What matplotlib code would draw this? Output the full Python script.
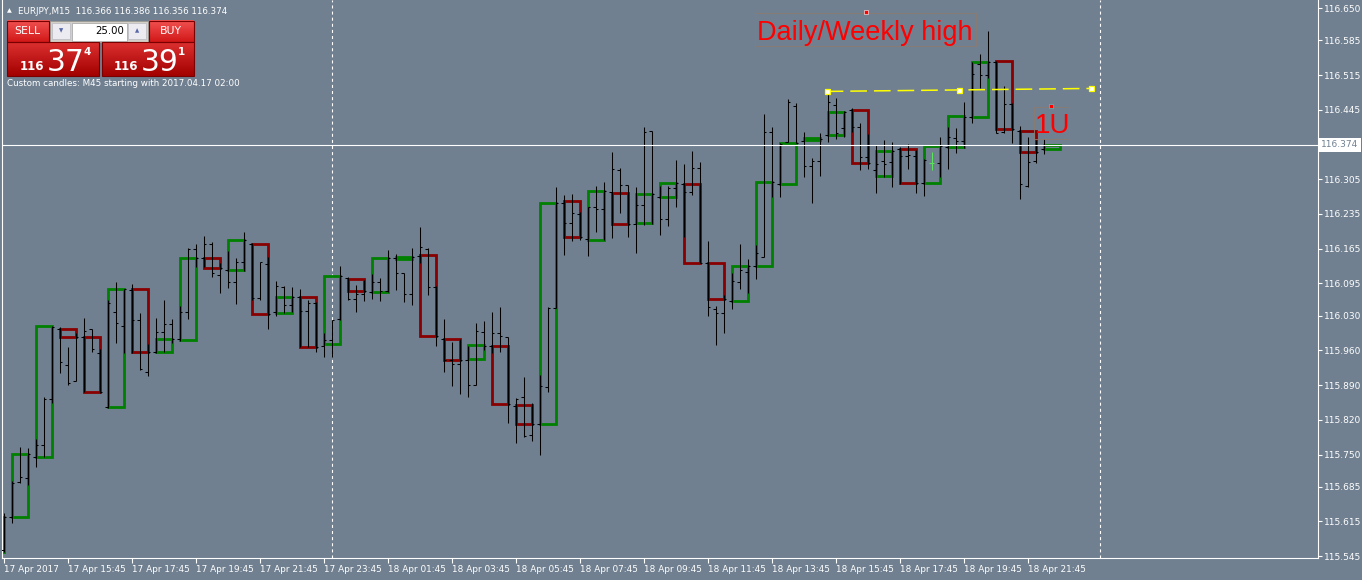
import matplotlib
matplotlib.use("Agg")
import matplotlib.pyplot as plt
from matplotlib.patches import Rectangle
from matplotlib import transforms
import numpy as np

plt.rcParams['lines.scale_dashes'] = False
plt.rcParams['font.family'] = ['DejaVu Sans']

# ---------------- DATA ----------------
symbol_header = "EURJPY,M15  116.366 116.386 116.356 116.374"
custom_note = "Custom candles: M45 starting with 2017.04.17 02:00"
lot_size = "25.00"
sell_big, sell_small, sell_sup = "37", "116", "4"
buy_big, buy_small, buy_sup = "39", "116", "1"
current_price = 116.374

# M15 OHLC bars (index 0 = 17 Apr 13:45)
bar_open = [
    115.558, 115.624, 115.695, 115.703, 115.745, 115.769, 115.862, 116.003, 115.930, 115.898,
    115.987, 116.003, 115.955, 115.846, 116.037, 116.009, 116.082, 116.021, 115.916, 115.957,
    115.997, 116.013, 115.983, 116.037, 116.164, 116.146, 116.174, 116.112, 116.122, 116.098,
    116.138, 116.174, 116.066, 116.134, 116.037, 116.088, 116.051, 116.068, 116.039, 116.056,
    115.969, 115.981, 116.023, 116.106, 116.064, 116.074, 116.078, 116.098, 116.080, 116.146,
    116.116, 116.074, 116.150, 116.164, 116.088, 115.983, 115.941, 115.932, 115.941, 115.890,
    115.997, 115.969, 115.995, 115.987, 115.848, 115.866, 115.789, 115.812, 115.886, 116.045,
    116.257, 116.217, 116.235, 116.184, 116.249, 116.245, 116.279, 116.324, 116.293, 116.215,
    116.253, 116.402, 116.269, 116.225, 116.287, 116.295, 116.279, 116.328, 116.136, 116.043,
    116.035, 116.060, 116.098, 116.118, 116.130, 116.148, 116.400, 116.295, 116.380, 116.453,
    116.382, 116.332, 116.342, 116.394, 116.455, 116.408, 116.445, 116.410, 116.350, 116.324,
    116.342, 116.340, 116.366, 116.352, 116.352, 116.297, 116.338, 116.338, 116.370, 116.388,
    116.382, 116.430, 116.537, 116.515, 116.541, 116.400, 116.457, 116.402, 116.291, 116.342,
    116.366]
bar_high = [
    115.632, 115.697, 115.765, 115.763, 115.781, 115.866, 116.009, 116.007, 115.967, 115.995,
    116.025, 116.003, 115.963, 116.062, 116.098, 116.084, 116.094, 116.035, 115.973, 116.025,
    116.062, 116.023, 116.049, 116.166, 116.174, 116.191, 116.178, 116.136, 116.160, 116.146,
    116.199, 116.176, 116.138, 116.148, 116.100, 116.090, 116.088, 116.084, 116.062, 116.058,
    115.995, 116.021, 116.130, 116.108, 116.092, 116.102, 116.114, 116.106, 116.162, 116.154,
    116.116, 116.166, 116.209, 116.166, 116.090, 116.023, 115.977, 115.983, 115.969, 116.015,
    116.019, 116.037, 116.047, 115.987, 115.864, 115.906, 115.854, 115.910, 116.047, 116.289,
    116.273, 116.275, 116.239, 116.249, 116.291, 116.299, 116.360, 116.328, 116.293, 116.289,
    116.410, 116.402, 116.291, 116.291, 116.344, 116.336, 116.362, 116.340, 116.180, 116.049,
    116.072, 116.116, 116.174, 116.144, 116.172, 116.436, 116.410, 116.378, 116.467, 116.459,
    116.400, 116.348, 116.398, 116.481, 116.469, 116.443, 116.449, 116.418, 116.396, 116.374,
    116.384, 116.380, 116.370, 116.376, 116.364, 116.346, 116.360, 116.390, 116.410, 116.408,
    116.461, 116.541, 116.557, 116.604, 116.543, 116.493, 116.459, 116.412, 116.390, 116.384,
    116.386]
bar_low = [
    115.554, 115.612, 115.693, 115.689, 115.725, 115.745, 115.854, 115.914, 115.890, 115.898,
    115.876, 115.957, 115.874, 115.844, 115.975, 115.955, 115.955, 115.920, 115.908, 115.955,
    115.957, 115.975, 115.979, 116.023, 116.128, 116.128, 116.108, 116.076, 116.086, 116.053,
    116.120, 116.062, 116.062, 116.003, 116.029, 116.035, 116.037, 115.967, 115.967, 115.957,
    115.947, 115.947, 116.021, 116.062, 116.037, 116.060, 116.064, 116.060, 116.078, 116.082,
    116.058, 116.051, 116.136, 116.072, 115.969, 115.916, 115.888, 115.872, 115.866, 115.890,
    115.961, 115.955, 115.957, 115.814, 115.773, 115.785, 115.777, 115.749, 115.876, 116.045,
    116.152, 116.180, 116.182, 116.150, 116.199, 116.182, 116.187, 116.237, 116.189, 116.156,
    116.213, 116.215, 116.193, 116.211, 116.249, 116.189, 116.273, 116.136, 116.029, 115.971,
    115.995, 116.043, 116.084, 116.076, 116.104, 116.148, 116.269, 116.269, 116.380, 116.378,
    116.310, 116.257, 116.312, 116.380, 116.386, 116.390, 116.400, 116.324, 116.326, 116.277,
    116.310, 116.289, 116.295, 116.326, 116.277, 116.271, 116.324, 116.310, 116.326, 116.358,
    116.368, 116.418, 116.489, 116.509, 116.398, 116.398, 116.378, 116.265, 116.289, 116.338,
    116.356]
bar_close = [
    115.624, 115.693, 115.705, 115.751, 115.769, 115.862, 116.007, 115.937, 115.894, 115.987,
    115.999, 115.963, 115.876, 116.056, 116.015, 116.084, 116.021, 115.922, 115.957, 115.997,
    116.013, 115.983, 116.037, 116.164, 116.146, 116.174, 116.116, 116.126, 116.098, 116.138,
    116.182, 116.066, 116.138, 116.033, 116.090, 116.051, 116.068, 116.039, 116.056, 115.967,
    115.981, 116.021, 116.110, 116.064, 116.074, 116.080, 116.098, 116.080, 116.146, 116.116,
    116.074, 116.148, 116.168, 116.088, 115.989, 115.941, 115.932, 115.941, 115.890, 115.999,
    115.969, 115.995, 115.989, 115.852, 115.862, 115.787, 115.812, 115.888, 116.045, 116.257,
    116.217, 116.237, 116.189, 116.249, 116.245, 116.281, 116.326, 116.293, 116.215, 116.253,
    116.400, 116.275, 116.225, 116.287, 116.297, 116.279, 116.328, 116.136, 116.047, 116.035,
    116.064, 116.100, 116.122, 116.130, 116.156, 116.400, 116.299, 116.376, 116.461, 116.378,
    116.332, 116.342, 116.386, 116.461, 116.398, 116.441, 116.410, 116.350, 116.338, 116.336,
    116.336, 116.362, 116.352, 116.354, 116.297, 116.344, 116.338, 116.372, 116.390, 116.382,
    116.430, 116.517, 116.515, 116.541, 116.398, 116.457, 116.406, 116.295, 116.340, 116.360,
    116.374]
highlight_bar = 116

# M45 custom candles (first one starts 2 bars before the visible window)
candle_open = [
    115.554, 115.624, 115.745, 116.003, 115.987, 115.846, 116.084, 115.957, 115.981, 116.146,
    116.122, 116.174, 116.035, 116.068, 115.973, 116.104, 116.078, 116.144, 116.152, 115.983,
    115.943, 115.969, 115.850, 115.812, 116.261, 116.182, 116.277, 116.217, 116.269, 116.295,
    116.136, 116.060, 116.130, 116.295, 116.384, 116.394, 116.445, 116.312, 116.366, 116.297,
    116.370, 116.430, 116.543, 116.402, 116.366]
candle_close = [
    115.624, 115.751, 116.009, 115.987, 115.876, 116.084, 115.957, 115.983, 116.146, 116.126,
    116.182, 116.033, 116.068, 115.967, 116.110, 116.080, 116.146, 116.148, 115.989, 115.941,
    115.971, 115.852, 115.812, 116.257, 116.189, 116.281, 116.215, 116.275, 116.297, 116.136,
    116.064, 116.130, 116.299, 116.378, 116.388, 116.441, 116.338, 116.362, 116.297, 116.372,
    116.432, 116.541, 116.406, 116.360, 116.374]

price_ticks = [116.650, 116.585, 116.515, 116.445, 116.305, 116.235, 116.165, 116.095,
               116.030, 115.960, 115.890, 115.820, 115.750, 115.685, 115.615, 115.545]
time_tick_bars = [0, 8, 16, 24, 32, 40, 48, 56, 64, 72, 80, 88, 96, 104, 112, 120, 128]
time_tick_labels = ["17 Apr 2017", "17 Apr 15:45", "17 Apr 17:45", "17 Apr 19:45",
                    "17 Apr 21:45", "17 Apr 23:45", "18 Apr 01:45", "18 Apr 03:45",
                    "18 Apr 05:45", "18 Apr 07:45", "18 Apr 09:45", "18 Apr 11:45",
                    "18 Apr 13:45", "18 Apr 15:45", "18 Apr 17:45", "18 Apr 19:45",
                    "18 Apr 21:45"]
day_separators = [41, 137]

level_x = [102.9, 119.4, 135.9]
level_y = [116.482, 116.485, 116.488]

label_high = "Daily/Weekly high"
label_high_pos = (94.2, 116.586)
label_high_box = (93.9, 116.574, 27.7, 0.066)
label_high_anchor = (107.8, 116.642)
label_1u = "1U"
label_1u_pos = (128.9, 116.398)
label_1u_box = (128.8, 116.386, 4.4, 0.065)
label_1u_anchor = (130.9, 116.453)

# ---------------- STYLE ----------------
BG = "#708090"
GREEN = "#008000"
RED = "#880000"
W, H = 1362, 580

fig = plt.figure(figsize=(W / 100, H / 100), dpi=100)
fig.patch.set_facecolor(BG)
ax = fig.add_axes([2 / W, 22 / H, 1316 / W, 558 / H])
ax.set_facecolor(BG)
ax.set_xlim(-0.1875, 164.31)
ax.set_ylim(115.5414, 116.6663)

for s in ["left", "bottom", "right"]:
    ax.spines[s].set_color("white")
    ax.spines[s].set_linewidth(0.8)
ax.spines["top"].set_visible(False)

# candles
for k, (o, c) in enumerate(zip(candle_open, candle_close)):
    start = 3 * k - 2
    col = GREEN if c >= o else RED
    ax.add_patch(Rectangle((start, min(o, c)), 2, abs(c - o), fill=False, ec=col,
                           lw=2.0, joinstyle="miter", zorder=2))

# M15 bars
idx = np.arange(len(bar_open))
cols = ["#5ae65a" if i == highlight_bar else "black" for i in idx]
tw = 0.3
ax.vlines(idx, bar_low, bar_high, colors=cols, lw=0.75, zorder=3)
ax.hlines(bar_open, idx - tw, idx, colors=cols, lw=0.75, zorder=3)
ax.hlines(bar_close, idx, idx + tw, colors=cols, lw=0.75, zorder=3)

# current price line and separators
ax.axhline(current_price, color="white", lw=0.8, zorder=4)
for d in day_separators:
    ax.axvline(d, color="white", lw=0.8, dashes=(2.2, 2.2), zorder=1)

# yellow level line
ax.plot(level_x, level_y, color="#ffff00", lw=1.1, dashes=(12, 5), zorder=4)
ax.plot(level_x, level_y, ls="none", marker="s", ms=3.6, mfc="white", mec="#ffff00",
        mew=0.9, zorder=5)

# text objects
ax.text(*label_high_pos, label_high, color="#ff0000", fontsize=19.5,
        family="Liberation Sans", va="baseline", ha="left", zorder=6)
ax.add_patch(Rectangle(label_high_box[:2], label_high_box[2], label_high_box[3], fill=False,
                       ec="#8c7b70", lw=0.6, zorder=5))
ax.plot(*label_high_anchor, marker="s", ms=2.5, mfc="#ff0000", mec="white", mew=0.4, zorder=6)
ax.text(*label_1u_pos, label_1u, color="#ff0000", fontsize=20,
        family="Liberation Sans", va="baseline", ha="left", zorder=6)
ax.add_patch(Rectangle(label_1u_box[:2], label_1u_box[2], label_1u_box[3], fill=False,
                       ec="#8c7b70", lw=0.6, zorder=5))
ax.plot(*label_1u_anchor, marker="s", ms=2.5, mfc="#ff0000", mec="#40e0e0", mew=0.4, zorder=6)

# axes ticks
ax.yaxis.tick_right()
ax.set_yticks(price_ticks)
ax.set_yticklabels([f"{v:.3f}" for v in price_ticks])
ax.tick_params(axis="y", colors="white", labelcolor="white", length=3, width=0.8,
               pad=1.5, labelsize=6.5, direction="out")
ax.set_xticks(time_tick_bars)
ax.set_xticklabels(time_tick_labels)
ax.tick_params(axis="x", colors="white", labelcolor="white", length=3.5, width=0.8,
               pad=1.2, labelsize=6.4, direction="out")
for lab in ax.get_xticklabels():
    lab.set_ha("left")

blend = transforms.blended_transform_factory(ax.transAxes, ax.transData)
ax.text(1.0 + 3 / 1316, current_price, f"{current_price:.3f}", transform=blend,
        va="center", ha="left", fontsize=6.5, color=BG, zorder=10, clip_on=False,
        bbox=dict(boxstyle="square,pad=0.25", fc="white", ec="none"))

# ---------------- trading panel overlay (pixel coordinates) ----------------
ov = fig.add_axes([0, 0, 1, 1])
ov.set_xlim(0, W)
ov.set_ylim(H, 0)
ov.axis("off")
ov.patch.set_alpha(0)


def grad(x0, x1, y0, y1, ctop, cbot):
    c0 = np.array(matplotlib.colors.to_rgb(ctop))
    c1 = np.array(matplotlib.colors.to_rgb(cbot))
    t = np.linspace(0, 1, 40)[:, None, None]
    img = c0 * (1 - t) + c1 * t
    ov.imshow(img, extent=[x0, x1, y1, y0], aspect="auto", zorder=1, interpolation="bilinear")
    ov.add_patch(Rectangle((x0, y0), x1 - x0, y1 - y0, fill=False, ec="#7a0000", lw=0.8, zorder=2))


ov.text(9, 11, "▲", color="white", fontsize=4.5, va="center", ha="center")
ov.text(18, 11, symbol_header, color="white", fontsize=6.3, va="center", ha="left")

grad(6.5, 48.5, 20.5, 42, "#f25252", "#d21818")
ov.text(27, 31.5, "SELL", color="white", fontsize=7.8, va="center", ha="center", zorder=3)
grad(148.5, 193.5, 20.5, 42, "#f25252", "#d21818")
ov.text(171, 31.5, "BUY", color="white", fontsize=7.8, va="center", ha="center", zorder=3)

ov.add_patch(Rectangle((49.5, 20.5), 98, 21, fc="#d4d0c8", ec="#9c9a94", lw=0.6, zorder=1))
ov.add_patch(Rectangle((52, 23), 18, 16, fc="#ecebf2", ec="#b8b8c0", lw=0.5, zorder=2))
ov.add_patch(Rectangle((128, 23), 18, 16, fc="#ecebf2", ec="#b8b8c0", lw=0.5, zorder=2))
ov.add_patch(Rectangle((72, 22.5), 55, 18, fc="white", ec="#a0a0a0", lw=0.5, zorder=2))
ov.text(61, 30.5, "▼", color="#5868a8", fontsize=4, va="center", ha="center", zorder=3)
ov.text(137, 30.5, "▲", color="#5868a8", fontsize=4, va="center", ha="center", zorder=3)
ov.text(124, 31, lot_size, color="black", fontsize=7.3, va="center", ha="right", zorder=3)

grad(6.5, 99, 42, 76, "#dc3030", "#a30000")
grad(101.5, 193.5, 42, 76, "#dc3030", "#a30000")
ov.text(44, 70.5, sell_small, color="white", fontsize=8.5, weight="bold", va="baseline", ha="right", zorder=3)
ov.text(47, 71, sell_big, color="white", fontsize=21.5, va="baseline", ha="left", zorder=3)
ov.text(83, 55, sell_sup, color="white", fontsize=7.5, weight="bold", va="baseline", ha="left", zorder=3)
ov.text(138, 70.5, buy_small, color="white", fontsize=8.5, weight="bold", va="baseline", ha="right", zorder=3)
ov.text(141, 71, buy_big, color="white", fontsize=21.5, va="baseline", ha="left", zorder=3)
ov.text(178, 55, buy_sup, color="white", fontsize=7.5, weight="bold", va="baseline", ha="left", zorder=3)

ov.text(7, 83.5, custom_note, color="white", fontsize=6.3, va="center", ha="left")

fig.savefig("out.png", dpi=100, facecolor=BG)
